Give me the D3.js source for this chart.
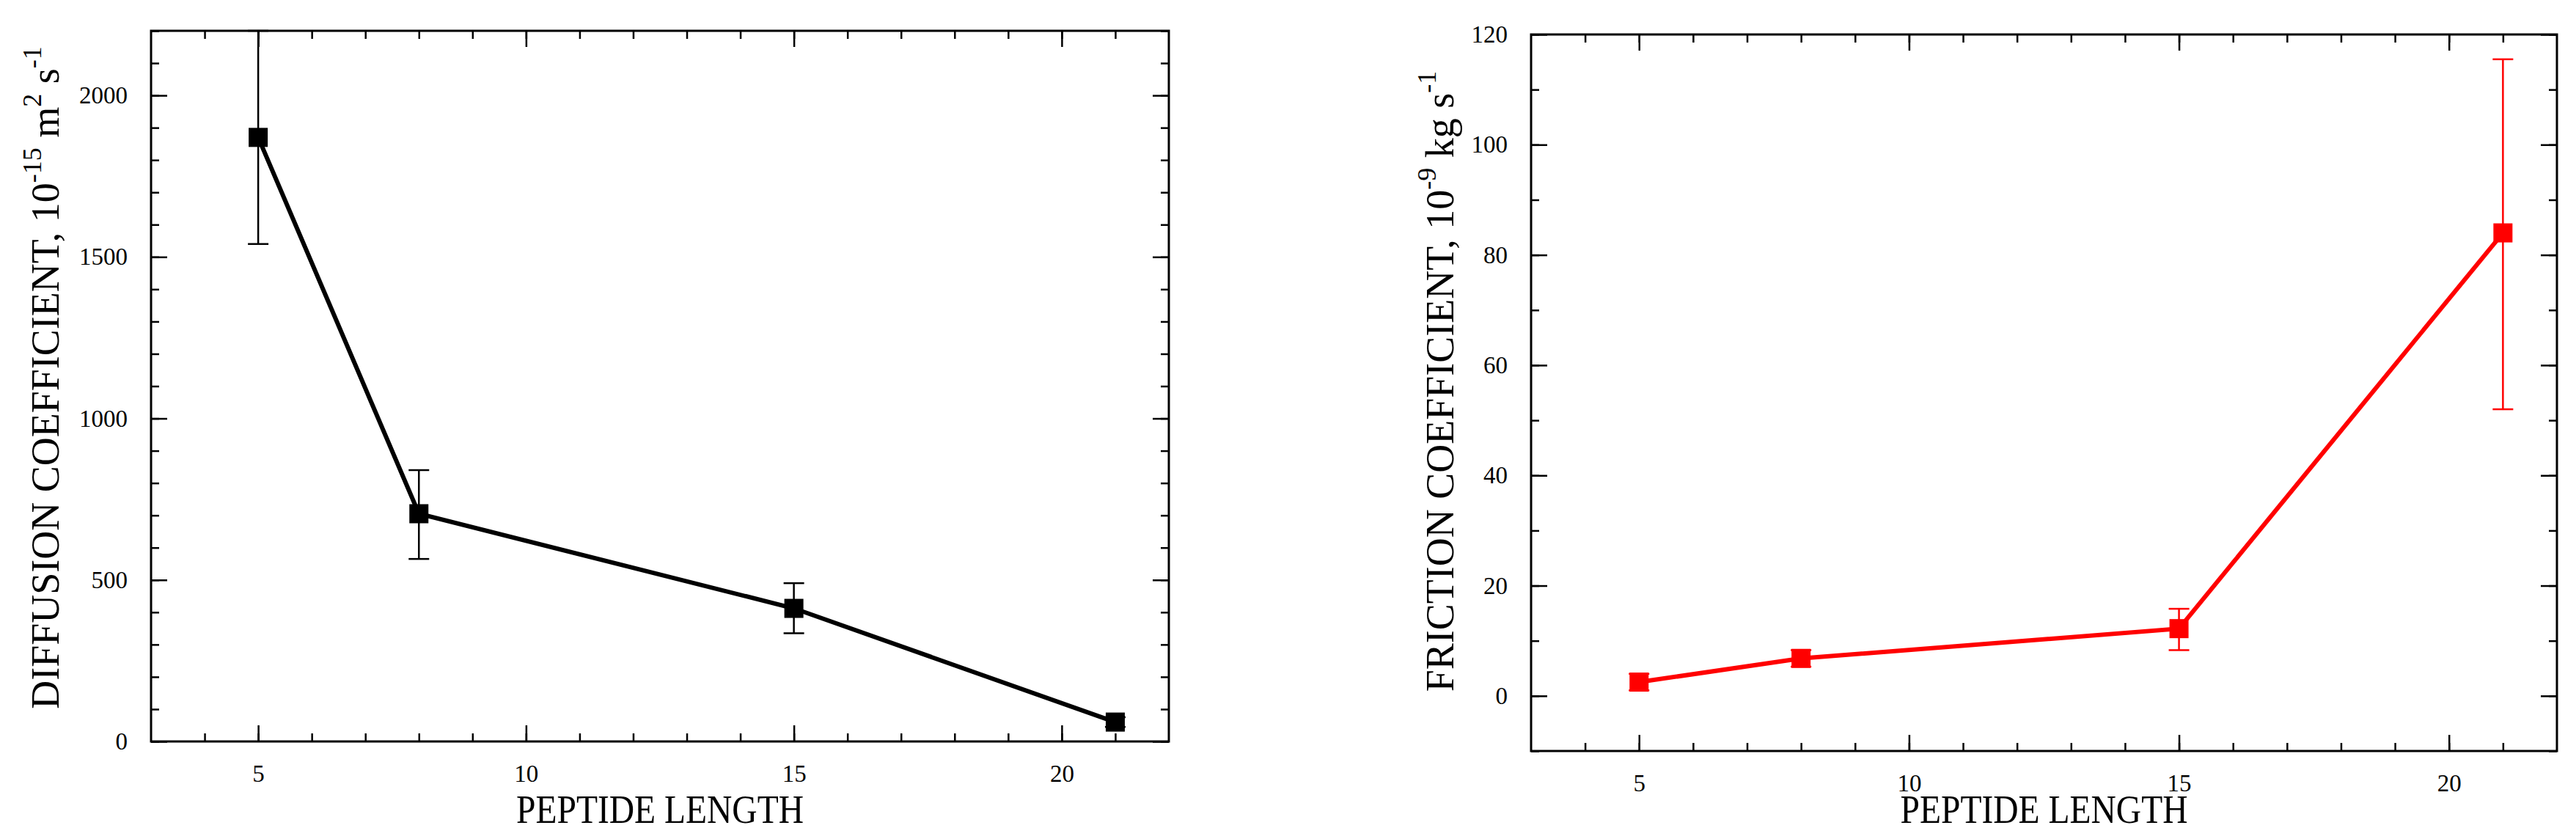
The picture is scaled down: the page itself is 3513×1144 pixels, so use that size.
<!DOCTYPE html>
<html><head><meta charset="utf-8">
<script src="https://cdn.jsdelivr.net/npm/d3@7"></script>
<style>body{margin:0;background:#fff}svg{display:block}
.tick text{font-family:'Liberation Serif','Times New Roman',serif !important;font-size:33px !important;fill:#000}</style>
</head><body>
<script>
const lengths=[5,8,15,21];
const diffusion=[1870,705,412,60];
const diffLo=[1540,565,335,45];
const diffHi=[2200,840,490,75];
const friction=[2.5,6.8,12.2,84];
const fricLo=[1.0,5.3,8.3,52];
const fricHi=[4.0,8.3,15.8,115.5];
const xTicks=[5,10,15,20];
const dTicks=[0,500,1000,1500,2000];
const fTicks=[0,20,40,60,80,100,120];

const W=3513,H=1144,F="'Liberation Serif','Times New Roman',serif";
const svg=d3.select("body").append("svg").attr("width",W).attr("height",H);

function panel(o){
  const x=d3.scaleLinear().domain([3,22]).range([o.l,o.r]);
  const y=d3.scaleLinear().domain(o.yd).range([o.b,o.t]);
  const g=svg.append("g");
  const minorX=d3.range(4,22,1), minorY=d3.range(o.yd[0],o.yd[1]+1e-9,o.ym);
  const ax=(sel,axis)=>{sel.call(axis);sel.select(".domain").remove();sel.selectAll(".tick line").attr("stroke","#000").attr("stroke-width",2.5);};
  const fmt=d3.format("d");
  ax(g.append("g").attr("transform",`translate(0,${o.b})`),d3.axisTop(x).tickValues(minorX).tickSize(11).tickFormat(""));
  ax(g.append("g").attr("transform",`translate(0,${o.t})`),d3.axisBottom(x).tickValues(minorX).tickSize(11).tickFormat(""));
  ax(g.append("g").attr("transform",`translate(${o.l},0)`),d3.axisRight(y).tickValues(minorY).tickSize(11).tickFormat(""));
  ax(g.append("g").attr("transform",`translate(${o.r},0)`),d3.axisLeft(y).tickValues(minorY).tickSize(11).tickFormat(""));
  ax(g.append("g").attr("transform",`translate(0,${o.b})`),d3.axisBottom(x).tickValues(xTicks).tickFormat(fmt).tickSizeInner(-22).tickSizeOuter(0).tickPadding(32));
  ax(g.append("g").attr("transform",`translate(0,${o.t})`),d3.axisTop(x).tickValues(xTicks).tickSizeInner(-22).tickSizeOuter(0).tickFormat(""));
  ax(g.append("g").attr("transform",`translate(${o.l},0)`),d3.axisLeft(y).tickValues(o.yt).tickFormat(fmt).tickSizeInner(-22).tickSizeOuter(0).tickPadding(32));
  ax(g.append("g").attr("transform",`translate(${o.r},0)`),d3.axisRight(y).tickValues(o.yt).tickSizeInner(-22).tickSizeOuter(0).tickFormat(""));
  g.append("rect").attr("x",o.l).attr("y",o.t).attr("width",o.r-o.l).attr("height",o.b-o.t).attr("fill","none").attr("stroke","#000").attr("stroke-width",3);
  const c=o.color;
  const eb=g.append("g").attr("stroke",c).attr("stroke-width",2.5);
  lengths.forEach((L,i)=>{
    eb.append("line").attr("x1",x(L)).attr("x2",x(L)).attr("y1",y(o.lo[i])).attr("y2",y(o.hi[i]));
    [o.lo[i],o.hi[i]].forEach(v=>eb.append("line").attr("x1",x(L)-14).attr("x2",x(L)+14).attr("y1",y(v)).attr("y2",y(v)));
  });
  g.append("path").datum(lengths.map((L,i)=>[L,o.v[i]])).attr("fill","none").attr("stroke",c).attr("stroke-width",6)
   .attr("d",d3.line().x(d=>x(d[0])).y(d=>y(d[1])));
  g.selectAll(".pt").data(lengths.map((L,i)=>[L,o.v[i]])).join("rect")
   .attr("x",d=>x(d[0])-13).attr("y",d=>y(d[1])-13).attr("width",26).attr("height",26).attr("fill",c);
  const cx=(o.l+o.r)/2, ty=1122;
  g.append("text").attr("text-anchor","middle").attr("font-family",F).attr("font-size",54)
   .attr("transform",`translate(${cx},${ty}) scale(0.88,1)`).text("PEPTIDE LENGTH");
  const yl=g.append("text").attr("transform",`translate(${o.yx},${o.yc}) rotate(-90)`).attr("text-anchor","middle")
    .attr("font-family",F).attr("font-size",54);
  let prevSup=false;
  o.ylab.forEach(([t,sup])=>{const s=yl.append("tspan").text(t);
    if(sup){s.attr("font-size",36).attr("dy",-24);} else if(prevSup){s.attr("dy",24);} prevSup=!!sup;});
}
panel({l:206,r:1594,t:42,b:1011,yd:[0,2200],ym:100,yt:dTicks,v:diffusion,lo:diffLo,hi:diffHi,color:"#000",
  yx:80,yc:515,ylab:[["DIFFUSION COEFFICIENT, 10",0],["-15",1],[" m",0],["2",1],[" s",0],["-1",1]]});
panel({l:2088,r:3487,t:47,b:1024,yd:[-10,120],ym:10,yt:fTicks,v:friction,lo:fricLo,hi:fricHi,color:"#ff0000",
  yx:1982,yc:520,ylab:[["FRICTION COEFFICIENT, 10",0],["-9",1],[" kg s",0],["-1",1]]});
</script>
</body></html>
